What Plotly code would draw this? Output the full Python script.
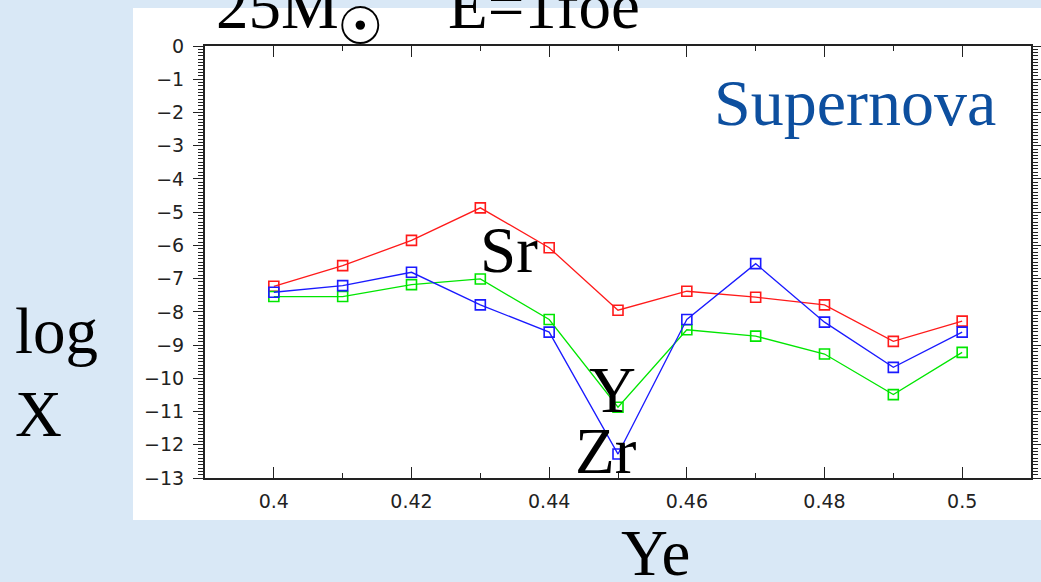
import plotly.graph_objects as go

# ---- data ----
ye = [0.40, 0.41, 0.42, 0.43, 0.44, 0.45, 0.46, 0.47, 0.48, 0.49, 0.50]
log_sr = [-7.23, -6.61, -5.85, -4.87, -6.07, -7.95, -7.38, -7.56, -7.79, -8.89, -8.28]
log_y = [-7.54, -7.54, -7.18, -7.01, -8.23, -10.87, -8.54, -8.73, -9.27, -10.49, -9.22]
log_zr = [-7.41, -7.21, -6.81, -7.79, -8.61, -12.28, -8.23, -6.55, -8.31, -9.67, -8.61]

x_tick_vals = [0.40, 0.42, 0.44, 0.46, 0.48, 0.50]
x_tick_text = ["0.4", "0.42", "0.44", "0.46", "0.48", "0.5"]
y_tick_vals = [0, -1, -2, -3, -4, -5, -6, -7, -8, -9, -10, -11, -12, -13]
y_tick_text = ["0", "\u22121", "\u22122", "\u22123", "\u22124", "\u22125", "\u22126",
               "\u22127", "\u22128", "\u22129", "\u221210", "\u221211", "\u221212", "\u221213"]

# ---- layout geometry (pixels) ----
W, H = 1041, 582
L, R, T, B = 205, 1031, 46, 478


def px(x):
    return (x - L) / (R - L)


def py(y):
    return (B - y) / (B - T)


SERIF = "Liberation Serif, Times New Roman, serif"
TICKFONT = dict(family="DejaVu Sans", size=19, color="#222222")

fig = go.Figure()

series = [
    ("Sr", log_sr, "#ff1a1a"),
    ("Y", log_y, "#00e600"),
    ("Zr", log_zr, "#1a1aff"),
]
for name, vals, col in series:
    fig.add_trace(go.Scatter(
        x=ye, y=vals, mode="lines+markers", name=name,
        line=dict(color=col, width=1.3),
        marker=dict(symbol="square-open", size=10, color=col, line=dict(width=1.6, color=col)),
        showlegend=False,
    ))

# white slide-image box
fig.add_shape(type="rect", xref="paper", yref="paper",
              x0=px(133), x1=px(1045), y0=py(520), y1=py(8),
              fillcolor="white", line=dict(width=0), layer="below")

annotations = []


def txt(text, x, y, size=65, color="black", xanchor="center", family=SERIF):
    annotations.append(dict(text=text, x=px(x), y=py(y), xref="paper", yref="paper",
                            xanchor=xanchor, yanchor="middle", showarrow=False,
                            font=dict(family=family, size=size, color=color)))


off = 22  # baseline -> box centre for ~65px serif
txt("Sr", 509, 272 - off)
txt("Y", 612, 412 - off)
txt("Zr", 606, 473 - off)
txt("Supernova", 855, 125 - off, size=66, color="#0d4f9f")
txt("log", 13, 353 - off, xanchor="left")
txt("X", 13, 436 - off, xanchor="left")
txt("Ye", 655, 575 - off)
txt("25M", 214, 28 - off, xanchor="left")
txt("\u2609", 360, 26, size=52, family="DejaVu Sans")
txt("E=1foe", 446, 28 - off, xanchor="left")

fig.update_layout(
    width=W, height=H,
    margin=dict(l=L, r=W - R, t=T, b=H - B, pad=0, autoexpand=False),
    paper_bgcolor="#d9e8f6",
    plot_bgcolor="white",
    annotations=annotations,
    xaxis=dict(
        range=[0.39, 0.51], tickmode="array", tickvals=x_tick_vals, ticktext=x_tick_text,
        ticks="inside", ticklen=11, tickwidth=1.3, tickcolor="#222", automargin=False,
        showline=True, linecolor="#222", linewidth=2, mirror="ticks",
        showgrid=False, zeroline=False, tickfont=TICKFONT, ticklabelstandoff=5,
        minor=dict(tickmode="array", tickvals=[0.41, 0.43, 0.45, 0.47, 0.49],
                   ticks="inside", ticklen=5, tickwidth=1.3, tickcolor="#222", showgrid=False),
    ),
    yaxis=dict(
        range=[-13, 0], tickmode="array", tickvals=y_tick_vals, ticktext=y_tick_text,
        ticks="outside", ticklen=10, tickwidth=1.3, tickcolor="#222", automargin=False,
        showline=True, linecolor="#222", linewidth=2, mirror="ticks",
        showgrid=False, zeroline=False, tickfont=TICKFONT, ticklabelstandoff=5,
        minor=dict(dtick=0.1, tick0=0, ticks="outside", ticklen=5, tickwidth=1,
                   tickcolor="#222", showgrid=False),
    ),
)

fig.write_html("out.html")
